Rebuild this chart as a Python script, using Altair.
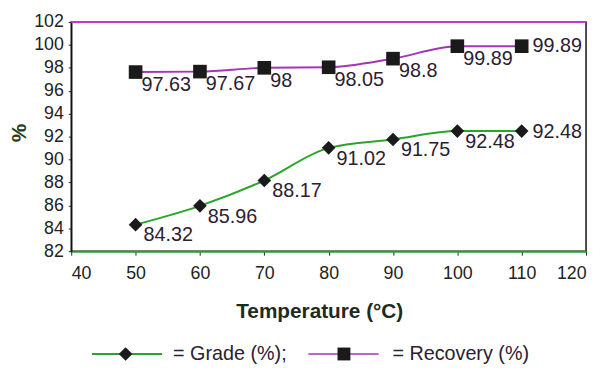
import altair as alt
import pandas as pd

temperature = [50, 60, 70, 80, 90, 100, 110]
grade = [84.32, 85.96, 88.17, 91.02, 91.75, 92.48, 92.48]
recovery = [97.63, 97.67, 98.0, 98.05, 98.8, 99.89, 99.89]
grade_labels = ["84.32", "85.96", "88.17", "91.02", "91.75", "92.48", "92.48"]
recovery_labels = ["97.63", "97.67", "98", "98.05", "98.8", "99.89", "99.89"]
series_names = ["Grade", "Recovery"]
series_colors = ["#2aa52a", "#a236b4"]
legend_texts = ["= Grade (%);", "= Recovery (%)"]
x_ticks = [40, 50, 60, 70, 80, 90, 100, 110, 120]
y_ticks = [82, 84, 86, 88, 90, 92, 94, 96, 98, 100, 102]

rows = []
for t, g, gl in zip(temperature, grade, grade_labels):
    rows.append({"T": t, "v": g, "s": "Grade", "lab": gl})
for t, r, rl in zip(temperature, recovery, recovery_labels):
    rows.append({"T": t, "v": r, "s": "Recovery", "lab": rl})
df = pd.DataFrame(rows)
last_t = max(temperature)

FONT = "Liberation Sans"
W, H = 521, 232

x = alt.X("T:Q", scale=alt.Scale(domain=[40, 120], nice=False),
          axis=alt.Axis(values=x_ticks, title="Temperature (°C)", grid=False,
                        domainColor="#2e9a3a", domainWidth=2, tickColor="#222",
                        tickSize=4, labelPadding=10, labelFontSize=18,
                        titleFontSize=21, titleFontWeight="bold", titlePadding=18,
                        titleX=251, labelColor="#222", titleColor="#1f2a1f"))
y = alt.Y("v:Q", scale=alt.Scale(domain=[82, 102], nice=False, zero=False),
          axis=alt.Axis(values=y_ticks, title="%", grid=False, domainColor="#111",
                        domainWidth=1.5, tickColor="#222", tickSize=3, labelPadding=5,
                        labelFontSize=18, titleFontSize=21, titleFontWeight="bold",
                        titleX=-52, titleY=112, titleAlign="center",
                        titleBaseline="middle", labelColor="#222",
                        titleColor="#1f3a1f"))
color = alt.Color("s:N", scale=alt.Scale(domain=series_names, range=series_colors),
                  legend=None)

base = alt.Chart(df)
lines = base.mark_line(interpolate="monotone", strokeWidth=2).encode(x=x, y=y, color=color)
points = base.mark_point(filled=True, opacity=1, color="#1a1a1a", size=190).encode(
    x=x, y=y,
    shape=alt.Shape("s:N", scale=alt.Scale(domain=series_names, range=["diamond", "square"]),
                    legend=None))

def lbl(series, last, dx, dy):
    cond = f"datum.T {'==' if last else '!='} {last_t}"
    return base.transform_filter(alt.datum.s == series).transform_filter(cond).mark_text(
        align="left", baseline="middle", dx=dx, dy=dy, fontSize=20, font=FONT,
        color="#2a2030").encode(x=x, y=y, text="lab:N")

labels = (lbl("Grade", False, 8, 11) + lbl("Grade", True, 11, 1)
          + lbl("Recovery", False, 6, 13) + lbl("Recovery", True, 11, 0))

one = pd.DataFrame({"k": [0]})
frame_top = alt.Chart(one).mark_rule(color="#c23ac8", strokeWidth=2).encode(
    x=alt.value(0), x2=alt.value(W), y=alt.value(0))

LY = 336
leg = (
    alt.Chart(one).mark_rule(color=series_colors[0], strokeWidth=2).encode(
        x=alt.value(21), x2=alt.value(92), y=alt.value(LY))
    + alt.Chart(one).mark_point(shape="diamond", filled=True, opacity=1, color="#1a1a1a", size=190).encode(
        x=alt.value(55), y=alt.value(LY))
    + alt.Chart(one).mark_text(align="left", baseline="middle", fontSize=20, font=FONT, color="#2a2030").encode(
        x=alt.value(103), y=alt.value(LY), text=alt.value(legend_texts[0]))
    + alt.Chart(one).mark_rule(color=series_colors[1], strokeWidth=1.5).encode(
        x=alt.value(240), x2=alt.value(311), y=alt.value(LY))
    + alt.Chart(one).mark_point(shape="square", filled=True, opacity=1, color="#1a1a1a", size=170).encode(
        x=alt.value(276), y=alt.value(LY))
    + alt.Chart(one).mark_text(align="left", baseline="middle", fontSize=20, font=FONT, color="#2a2030").encode(
        x=alt.value(325), y=alt.value(LY), text=alt.value(legend_texts[1]))
)

chart = alt.layer(lines, points, labels, frame_top, leg).properties(
    width=W, height=H, autosize=alt.AutoSizeParams(type="none"),
    padding={"left": 64, "top": 12, "right": 4, "bottom": 114},
).configure_view(stroke="#111", strokeWidth=1.5).configure_axis(
    labelFont=FONT, titleFont=FONT)

chart.save("out.html", embed_options={"renderer": "svg", "actions": False})
